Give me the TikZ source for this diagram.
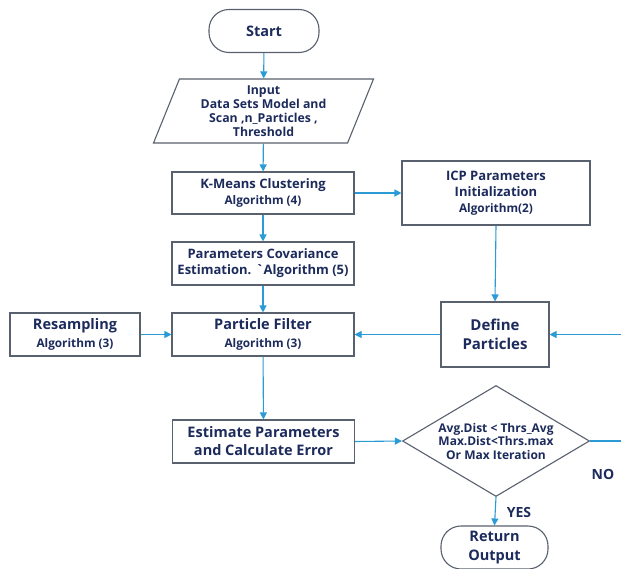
\documentclass[tikz,border=0pt]{standalone}
\usepackage{fontspec}
\setmainfont{Open Sans}
\usepackage{tikz}
\usetikzlibrary{shapes.geometric,arrows.meta}
\definecolor{boxgray}{HTML}{59606E}
\definecolor{textnavy}{HTML}{1C2B5C}
\definecolor{flowblue}{HTML}{2B9BD5}
\newcommand{\algtext}[1]{{\fontsize{11.8}{16}\selectfont #1}}
\tikzset{
  procbox/.style={draw=boxgray, line width=1.1pt, fill=white, text=textnavy,
    align=center, inner sep=1pt, font=\bfseries\fontsize{13}{16}\selectfont},
  bigbox/.style={procbox, font=\bfseries\fontsize{14.5}{18}\selectfont},
  termbox/.style={bigbox, rounded corners=20pt},
  iobox/.style={procbox, trapezium, trapezium left angle=63, trapezium right angle=117,
    trapezium stretches body, inner sep=0pt, font=\bfseries\fontsize{12.3}{14}\selectfont},
  decision/.style={procbox, diamond, aspect=1.68, inner sep=0pt,
    font=\bfseries\fontsize{12}{13.5}\selectfont},
  flow/.style={draw=flowblue, line width=1.1pt, -{Triangle[length=7pt,width=7pt]}},
  flowtext/.style={text=textnavy, font=\bfseries\fontsize{14}{16}\selectfont}
}

\begin{document}
\begin{tikzpicture}[x=1pt,y=-1pt]
\path[use as bounding box, fill=white] (0,0) rectangle (621,568);
% main column
\node[termbox, minimum width=110pt, minimum height=43pt] (start) at (264,31) {Start};
\node[iobox, minimum width=220pt, minimum height=64pt] (input) at (263.5,111)
  {Input\\Data Sets Model and\\Scan ,n\_Particles ,\\Threshold};
\node[procbox, minimum width=182pt, minimum height=42pt] (kmeans) at (263,193)
  {K-Means Clustering\\\algtext{Algorithm (4)}};
\node[procbox, minimum width=182pt, minimum height=43pt] (covest) at (263,263.5)
  {Parameters Covariance\\Estimation. \textasciigrave Algorithm (5)};
\node[bigbox, minimum width=182pt, minimum height=43pt] (pfilter) at (263,334.5)
  {Particle Filter\\\algtext{Algorithm (3)}};
\node[bigbox, minimum width=182pt, minimum height=43pt] (estim) at (263.5,441.5)
  {Estimate Parameters\\and Calculate Error};
% side boxes
\node[bigbox, minimum width=130pt, minimum height=43pt] (resamp) at (75,334.5)
  {Resampling\\\algtext{Algorithm (3)}};
\node[procbox, minimum width=188pt, minimum height=64pt] (icpinit) at (496,193)
  {ICP Parameters\\Initialization\\\algtext{Algorithm(2)}};
\node[bigbox, minimum width=108pt, minimum height=65pt, font=\bfseries\fontsize{15}{19}\selectfont]
  (defpart) at (495,334.5) {Define\\Particles};
\node[decision, minimum width=187pt, minimum height=111pt] (check) at (496,441)
  {Avg.Dist < Thrs\_Avg\\Max.Dist<Thrs.max\\Or Max Iteration};
\node[termbox, minimum width=107pt, minimum height=43pt, font=\bfseries\fontsize{14.5}{19}\selectfont]
  (retout) at (494.5,547.5) {Return\\Output};
\coordinate (loopout) at (640,441);

% connectors
\draw[flow] (start) -- (input);
\draw[flow] (input) -- (kmeans);
\draw[flow] (kmeans) -- (icpinit);
\draw[flow] (kmeans) -- (covest);
\draw[flow] (covest) -- (pfilter);
\draw[flow] (icpinit.south) -- (defpart.north);
\draw[flow] (defpart) -- (pfilter);
\draw[flow] (resamp) -- (pfilter);
\draw[flow] (pfilter) -- (estim);
\draw[flow] (estim.east) -- (check.west);
\draw[flow] (check.south) -- (retout.north);
\draw[flow] (check.east) -- (loopout) |- (defpart.east);
\node[flowtext] (yeslab) at (519,512) {YES};
\node[flowtext] (nolab) at (603,474) {NO};
\end{tikzpicture}
\end{document}
